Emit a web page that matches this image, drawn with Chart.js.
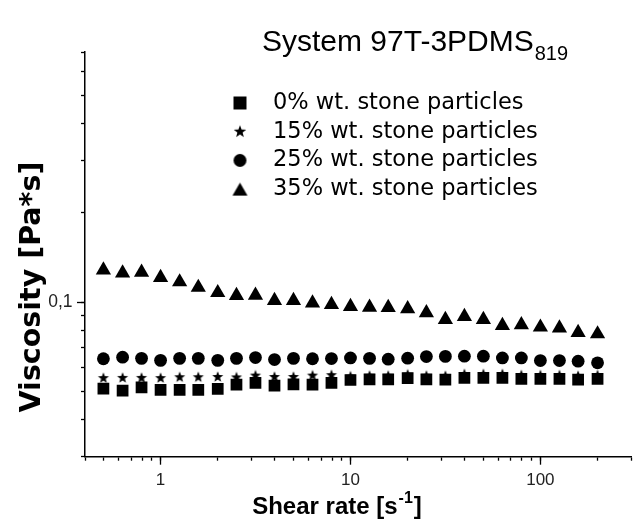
<!DOCTYPE html>
<html><head><meta charset="utf-8">
<style>
html,body{margin:0;padding:0;background:#fff;overflow:hidden;}
#wrap{width:640px;height:524px;position:relative;}
</style>
<script src="https://cdn.jsdelivr.net/npm/chart.js@4.4.1/dist/chart.umd.min.js"></script>
</head><body><div id="wrap"><canvas id="c" width="640" height="524"></canvas></div>
<script>
// ---- data ----
const shearRate = [0.5, 0.631, 0.794, 1.0, 1.26, 1.58, 2.0, 2.51, 3.16, 3.98, 5.01, 6.31, 7.94, 10.0, 12.6, 15.8, 20.0, 25.1, 31.6, 39.8, 50.1, 63.1, 79.4, 100, 126, 158, 200];
const visc0  = [0.0510, 0.0502, 0.0515, 0.0505, 0.0505, 0.0505, 0.0509, 0.0526, 0.0533, 0.0522, 0.0527, 0.0526, 0.0533, 0.0545, 0.0548, 0.0548, 0.0553, 0.0548, 0.0547, 0.0554, 0.0554, 0.0554, 0.0550, 0.0550, 0.0550, 0.0547, 0.0550];
const visc15 = [0.0553, 0.0554, 0.0554, 0.0553, 0.0557, 0.0557, 0.0558, 0.0556, 0.0564, 0.0558, 0.0558, 0.0564, 0.0566, 0.0560, 0.0563, 0.0563, 0.0568, 0.0563, 0.0562, 0.0570, 0.0570, 0.0570, 0.0565, 0.0565, 0.0565, 0.0562, 0.0565];
const visc25 = [0.0643, 0.0651, 0.0645, 0.0635, 0.0645, 0.0645, 0.0635, 0.0645, 0.0649, 0.0639, 0.0645, 0.0643, 0.0644, 0.0647, 0.0645, 0.0641, 0.0646, 0.0654, 0.0655, 0.0656, 0.0656, 0.0647, 0.0647, 0.0634, 0.0634, 0.0631, 0.0623];
const visc35 = [0.1283, 0.1253, 0.1260, 0.1209, 0.1169, 0.1120, 0.1075, 0.1051, 0.1053, 0.1012, 0.1011, 0.0991, 0.0981, 0.0965, 0.0960, 0.0957, 0.0948, 0.0919, 0.0872, 0.0893, 0.0872, 0.0833, 0.0837, 0.0822, 0.0816, 0.0788, 0.0780];
const seriesLabels = ['0% wt. stone particles', '15% wt. stone particles', '25% wt. stone particles', '35% wt. stone particles'];

const xTickValues  = [0.4,0.5,0.6,0.7,0.8,0.9,1,2,3,4,5,6,7,8,9,10,20,30,40,50,60,70,80,90,100,200,300];
const xMajorTicks  = [1, 10, 100];
const xMajorLabels = ['1', '10', '100'];
const yTickValues  = [0.03,0.04,0.05,0.06,0.07,0.08,0.09,0.1,0.2,0.3,0.4,0.5,0.6,0.7];
const yMajorTicks  = [0.1];
const yMajorLabels = ['0,1'];

const titleMain = 'System 97T-3PDMS';
const titleSub  = '819';
const xTitleMain = 'Shear rate [s';
const xTitleSup  = '-1';
const xTitleEnd  = ']';
const yTitle = 'Viscosity [Pa*s]';

// ---- marker images ----
const FONT = '"Liberation Sans", Arial, sans-serif';
const WIDE = '"DejaVu Sans", sans-serif';
function makeStar(R, r) {
  const s = Math.ceil(2 * R) + 2;
  const c = document.createElement('canvas'); c.width = s; c.height = s;
  const g = c.getContext('2d'); g.fillStyle = '#000'; g.beginPath();
  for (let k = 0; k < 10; k++) {
    const a = -Math.PI / 2 + k * Math.PI / 5, rad = k % 2 === 0 ? R : r;
    g.lineTo(s / 2 + rad * Math.cos(a), s / 2 + rad * Math.sin(a));
  }
  g.closePath(); g.fill(); return c;
}
function makeIcon(kind, size) {
  const s = size + 2;
  const c = document.createElement('canvas'); c.width = s; c.height = s;
  const g = c.getContext('2d'); g.fillStyle = '#000'; g.beginPath();
  const m = s / 2;
  if (kind === 'rect') g.rect(m - size / 2, m - size / 2, size, size);
  else if (kind === 'circle') g.arc(m, m, size / 2, 0, Math.PI * 2);
  else if (kind === 'triangle') { const h = size * 0.87; g.moveTo(m, m - h / 2); g.lineTo(m + size / 2, m + h / 2); g.lineTo(m - size / 2, m + h / 2); g.closePath(); }
  g.fill(); return c;
}
const starMarker = makeStar(5.8, 2.4);
const legendIcons = [makeIcon('rect', 13), makeStar(6.6, 2.7), makeIcon('circle', 13), makeIcon('triangle', 15)];

const toPts = arr => shearRate.map((x, i) => ({x: x, y: arr[i]}));

const LEG_FS = 22.5, LEG_PAD = 6.2, LEG_W = 43.5;
const legendPlacer = {
  id: 'legendPlacer',
  afterLayout(chart) {
    const lg = chart.legend; if (!lg) return;
    lg.left = 240 - LEG_PAD - LEG_W / 2;
    lg.top = 103 - LEG_PAD - LEG_FS / 2;
    lg.right = lg.left + 380; lg.width = 380;
    lg.bottom = lg.top + 300; lg.height = 300;
  }
};
const textPlugin = {
  id: 'texts',
  afterDraw(chart) {
    const ctx = chart.ctx; ctx.save(); ctx.fillStyle = '#000'; ctx.textBaseline = 'alphabetic'; ctx.textAlign = 'left';
    // title
    ctx.font = '30px ' + FONT;
    ctx.fillText(titleMain, 262, 51);
    const tw = ctx.measureText(titleMain).width;
    ctx.font = '20px ' + FONT;
    ctx.fillText(titleSub, 262 + tw + 1, 60);
    // x title
    ctx.font = 'bold 24px ' + FONT; const w1 = ctx.measureText(xTitleMain).width;
    ctx.font = 'bold 16px ' + FONT; const w2 = ctx.measureText(xTitleSup).width;
    ctx.font = 'bold 24px ' + FONT; const w3 = ctx.measureText(xTitleEnd).width;
    let x0 = 336 - (w1 + w2 + w3) / 2; const by = 514;
    ctx.fillText(xTitleMain, x0, by);
    ctx.font = 'bold 16px ' + FONT; ctx.fillText(xTitleSup, x0 + w1 + 1, by - 11);
    ctx.font = 'bold 24px ' + FONT; ctx.fillText(xTitleEnd, x0 + w1 + w2 + 2, by);
    // y title
    ctx.translate(40, 287); ctx.rotate(-Math.PI / 2);
    ctx.font = 'bold 28.5px ' + WIDE; ctx.textAlign = 'center';
    ctx.fillText(yTitle, 0, 0);
    ctx.restore();
  }
};

const axisCommon = {type: 'logarithmic'};
new Chart(document.getElementById('c'), {
  type: 'scatter',
  data: {
    datasets: [
      {label: seriesLabels[0], data: toPts(visc0), pointStyle: 'rect', pointRadius: 8.3, backgroundColor: '#000', borderWidth: 0, pointBorderWidth: 0},
      {label: seriesLabels[1], data: toPts(visc15), pointStyle: starMarker, pointRadius: 6, backgroundColor: '#000', borderWidth: 0, pointBorderWidth: 0},
      {label: seriesLabels[2], data: toPts(visc25), pointStyle: 'circle', pointRadius: 6.4, backgroundColor: '#000', borderWidth: 0, pointBorderWidth: 0},
      {label: seriesLabels[3], data: toPts(visc35), pointStyle: 'triangle', pointRadius: 8.8, backgroundColor: '#000', borderWidth: 0, pointBorderWidth: 0}
    ]
  },
  options: {
    responsive: false, animation: false, events: [],
    layout: {padding: {top: 52, right: 4, left: 0, bottom: 0}},
    plugins: {
      tooltip: {enabled: false},
      title: {display: false},
      legend: {
        display: true, position: 'chartArea', align: 'start',
        labels: {
          usePointStyle: true, pointStyleWidth: LEG_W, boxHeight: LEG_FS, padding: LEG_PAD,
          color: '#000', font: {family: WIDE, size: LEG_FS},
          generateLabels: chart => chart.data.datasets.map((ds, i) => ({
            text: ds.label, fillStyle: '#000', strokeStyle: '#000', lineWidth: 0,
            pointStyle: legendIcons[i], hidden: false, datasetIndex: i, fontColor: '#000'
          }))
        }
      }
    },
    scales: {
      x: {
        ...axisCommon, position: 'bottom', weight: 0, min: 0.4, max: 300,
        afterBuildTicks: s => { s.ticks = xTickValues.map(v => ({value: v})); },
        afterFit: s => { s.height = 67.3; },
        ticks: {autoSkip: false, maxRotation: 0, padding: 9, color: '#222', font: {family: FONT, size: 17},
          callback: v => { const k = xMajorTicks.indexOf(v); return k >= 0 ? xMajorLabels[k] : ''; }},
        grid: {drawOnChartArea: false, tickLength: 4, tickWidth: 1.3, color: '#000'},
        border: {display: true, color: '#000', width: 1.5}
      },
      xMajor: {
        ...axisCommon, position: 'bottom', weight: -1, min: 0.4, max: 300,
        afterBuildTicks: s => { s.ticks = xMajorTicks.map(v => ({value: v})); },
        afterFit: s => { s.height = 0; },
        ticks: {display: false},
        grid: {drawOnChartArea: false, tickLength: 8, tickWidth: 1.3, color: '#000'},
        border: {display: false}
      },
      y: {
        ...axisCommon, position: 'left', weight: 0, min: 0.03, max: 0.7,
        afterBuildTicks: s => { s.ticks = yTickValues.map(v => ({value: v})); },
        afterFit: s => { s.width = 85; },
        ticks: {autoSkip: false, padding: 8.5, color: '#222', font: {family: FONT, size: 17.5},
          callback: v => { const k = yMajorTicks.indexOf(v); return k >= 0 ? yMajorLabels[k] : ''; }},
        grid: {drawOnChartArea: false, tickLength: 4, tickWidth: 1.3, color: '#000'},
        border: {display: true, color: '#000', width: 1.5}
      },
      yMajor: {
        ...axisCommon, position: 'left', weight: -1, min: 0.03, max: 0.7,
        afterBuildTicks: s => { s.ticks = yMajorTicks.map(v => ({value: v})); },
        afterFit: s => { s.width = 0; },
        ticks: {display: false},
        grid: {drawOnChartArea: false, tickLength: 8, tickWidth: 1.3, color: '#000'},
        border: {display: false}
      }
    }
  },
  plugins: [legendPlacer, textPlugin]
});
</script>
</body></html>
